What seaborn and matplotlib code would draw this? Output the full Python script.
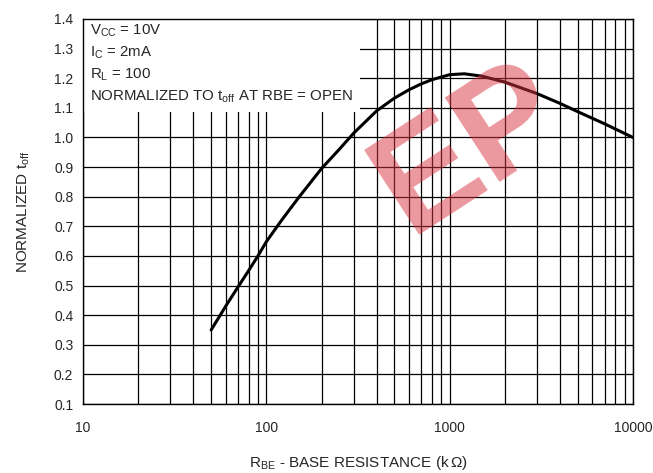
import numpy as np
import pandas as pd
import matplotlib
matplotlib.use('Agg')
import matplotlib.pyplot as plt
import seaborn as sns
from matplotlib.patches import Rectangle
from matplotlib.ticker import LogLocator, FixedLocator, NullFormatter

# --------------------------------------------------------------
# Data
# --------------------------------------------------------------
rbe_kohm = [50, 60, 70, 80, 90, 100, 120, 150, 200, 250, 300, 400, 500, 600, 700, 800,
            1000, 1200, 1500, 2000, 3000, 4000, 5000, 7000, 10000]
norm_toff = [0.35, 0.43, 0.495, 0.55, 0.60, 0.648, 0.717, 0.797, 0.895, 0.96, 1.015, 1.09,
             1.133, 1.161, 1.181, 1.195, 1.212, 1.215, 1.207, 1.187, 1.148, 1.115, 1.087,
             1.046, 1.0]

x_ticks = [10, 100, 1000, 10000]
x_tick_labels = ['10', '100', '1000', '10000']
y_ticks = [0.1, 0.2, 0.3, 0.4, 0.5, 0.6, 0.7, 0.8, 0.9, 1.0, 1.1, 1.2, 1.3, 1.4]

cond_lines = [r'V$_{\mathregular{CC}}$ = 10V',
              r'I$_{\mathregular{C}}$ = 2mA',
              r'R$_{\mathregular{L}}$ = 100',
              r'NORMALIZED TO t$_{\mathregular{off}}$ AT RBE = OPEN']

df = pd.DataFrame({'rbe': rbe_kohm, 'toff': norm_toff})

sns.set_style('white')
plt.rcParams['font.family'] = ['Liberation Sans', 'DejaVu Sans']
plt.rcParams['mathtext.fontset'] = 'custom'
plt.rcParams['mathtext.rm'] = 'Liberation Sans'

fig = plt.figure(figsize=(6.53, 4.73), dpi=100)
ax = fig.add_axes([83 / 653, 1 - 404 / 473, 550 / 653, 385 / 473])

ax.set_xscale('log')
ax.set_xlim(10, 10000)
ax.set_ylim(0.1, 1.4)

# grid
ax.xaxis.set_major_locator(FixedLocator(x_ticks))
ax.xaxis.set_minor_locator(LogLocator(base=10, subs=np.arange(2, 10)))
ax.xaxis.set_minor_formatter(NullFormatter())
ax.set_xticklabels(x_tick_labels)
ax.set_yticks(y_ticks)
ax.set_yticklabels([f'{v:.1f}' for v in y_ticks])
ax.grid(which='both', color='black', linewidth=0.9, zorder=1)
ax.set_axisbelow(True)

ax.tick_params(axis='y', which='major', direction='inout', length=8, width=0.9, labelsize=10, pad=3)
ax.tick_params(axis='x', which='major', direction='out', length=4, width=0.9, labelsize=10, pad=8)
ax.tick_params(axis='x', which='minor', length=0)
for s in ax.spines.values():
    s.set_color('black')
    s.set_linewidth(1.0)

# white box behind the test conditions
ax.add_patch(Rectangle((0, 1.0 - 93 / 385), 277 / 550, 93 / 385, transform=ax.transAxes,
                       facecolor='white', edgecolor='none', zorder=1.5))
for i, t in enumerate(cond_lines):
    ax.text(7 / 550, 1 - (12 + 22 * i) / 385, t, transform=ax.transAxes,
            fontsize=10.8, va='center', ha='left', zorder=3)

# the curve
sns.lineplot(data=df, x='rbe', y='toff', ax=ax, color='black', linewidth=2.2, zorder=4)

ax.set_xlabel(r'R$_{\mathregular{BE}}$ - BASE RESISTANCE (k$\,\Omega$)', fontsize=11, labelpad=14)
ax.set_ylabel(r'NORMALIZED t$_{\mathregular{off}}$', fontsize=11, labelpad=16)

# red watermark
fig.text(470 / 653, 1 - 150 / 473, 'EP', fontsize=105, fontweight='bold', color='#d8323f',
         alpha=0.5, rotation=33, ha='center', va='center', zorder=10)

plt.savefig('out.png', dpi=100)
plt.close()
